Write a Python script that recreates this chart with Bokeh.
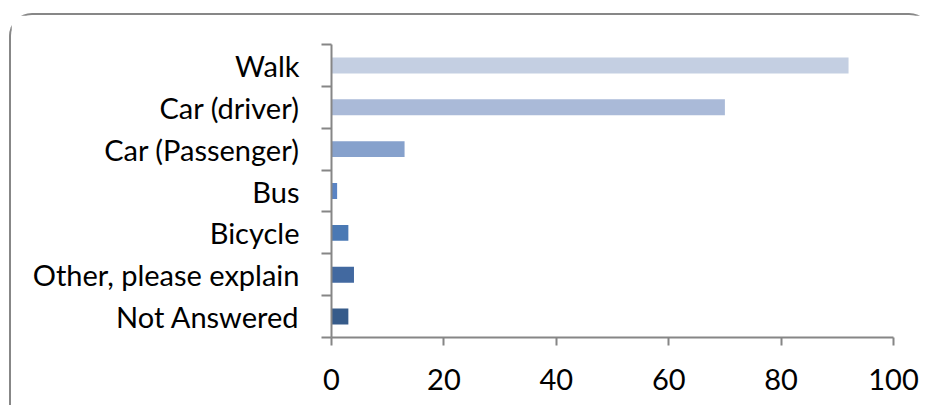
from bokeh.plotting import figure
from bokeh.models import FixedTicker, Range1d, ColumnDataSource
from bokeh.embed import file_html
from bokeh.resources import INLINE

# Data (top to bottom as in the chart)
categories = ["Walk", "Car (driver)", "Car (Passenger)", "Bus", "Bicycle",
              "Other, please explain", "Not Answered"]
values = [92, 70, 13, 1, 3, 4, 3]
colors = ["#C4CFE2", "#AABAD8", "#86A1CC", "#5A84C4", "#4A79B4", "#4269A0", "#365B8A"]
x_ticks = [0, 20, 40, 60, 80, 100]

n = len(categories)
ypos = [n - i for i in range(n)]  # Walk at top

src = ColumnDataSource(dict(y=ypos, v=values, c=colors, cat=categories))

W, H = 923, 392
p = figure(width=W, height=H, output_backend="svg", toolbar_location=None,
           x_range=Range1d(0, 100), y_range=Range1d(0.5, n + 0.5),
           min_border_left=320, min_border_right=41, min_border_top=29,
           min_border_bottom=70)
p.margin = (13, 0, 0, 9)
p.styles = {"border-top": "2px solid #878787", "border-left": "2px solid #878787",
            "border-top-left-radius": "23px", "border-top-right-radius": "23px"}
p.outline_line_color = None
p.xgrid.visible = False
p.ygrid.visible = False
p.background_fill_color = "white"
p.border_fill_color = "white"

p.hbar(y="y", left=0, right="v", height=0.38, color="c", line_color=None, source=src)

font = "Lato"
axis_col = "#868686"

xa = p.xaxis[0]
xa.ticker = FixedTicker(ticks=x_ticks, minor_ticks=[])
xa.axis_line_color = axis_col
xa.axis_line_width = 2
xa.major_tick_line_color = axis_col
xa.major_tick_line_width = 2
xa.major_tick_out = 8
xa.major_tick_in = 0
xa.minor_tick_line_color = None
xa.major_label_text_font = font
xa.major_label_text_font_size = "29px"
xa.major_label_text_color = "#000000"
xa.major_label_standoff = 23

ya = p.yaxis[0]
ya.ticker = FixedTicker(ticks=ypos, minor_ticks=[i + 0.5 for i in range(n + 1)])
ya.major_label_overrides = {y: c for y, c in zip(ypos, categories)}
ya.axis_line_color = axis_col
ya.axis_line_width = 2
ya.major_tick_line_color = None
ya.major_tick_out = 0
ya.major_tick_in = 0
ya.minor_tick_line_color = axis_col
ya.minor_tick_line_width = 2
ya.minor_tick_out = 10
ya.minor_tick_in = 0
ya.major_label_text_font = font
ya.major_label_text_font_size = "29px"
ya.major_label_text_color = "#000000"
ya.major_label_standoff = 22

open("out.html", "w").write(file_html(p, INLINE))
